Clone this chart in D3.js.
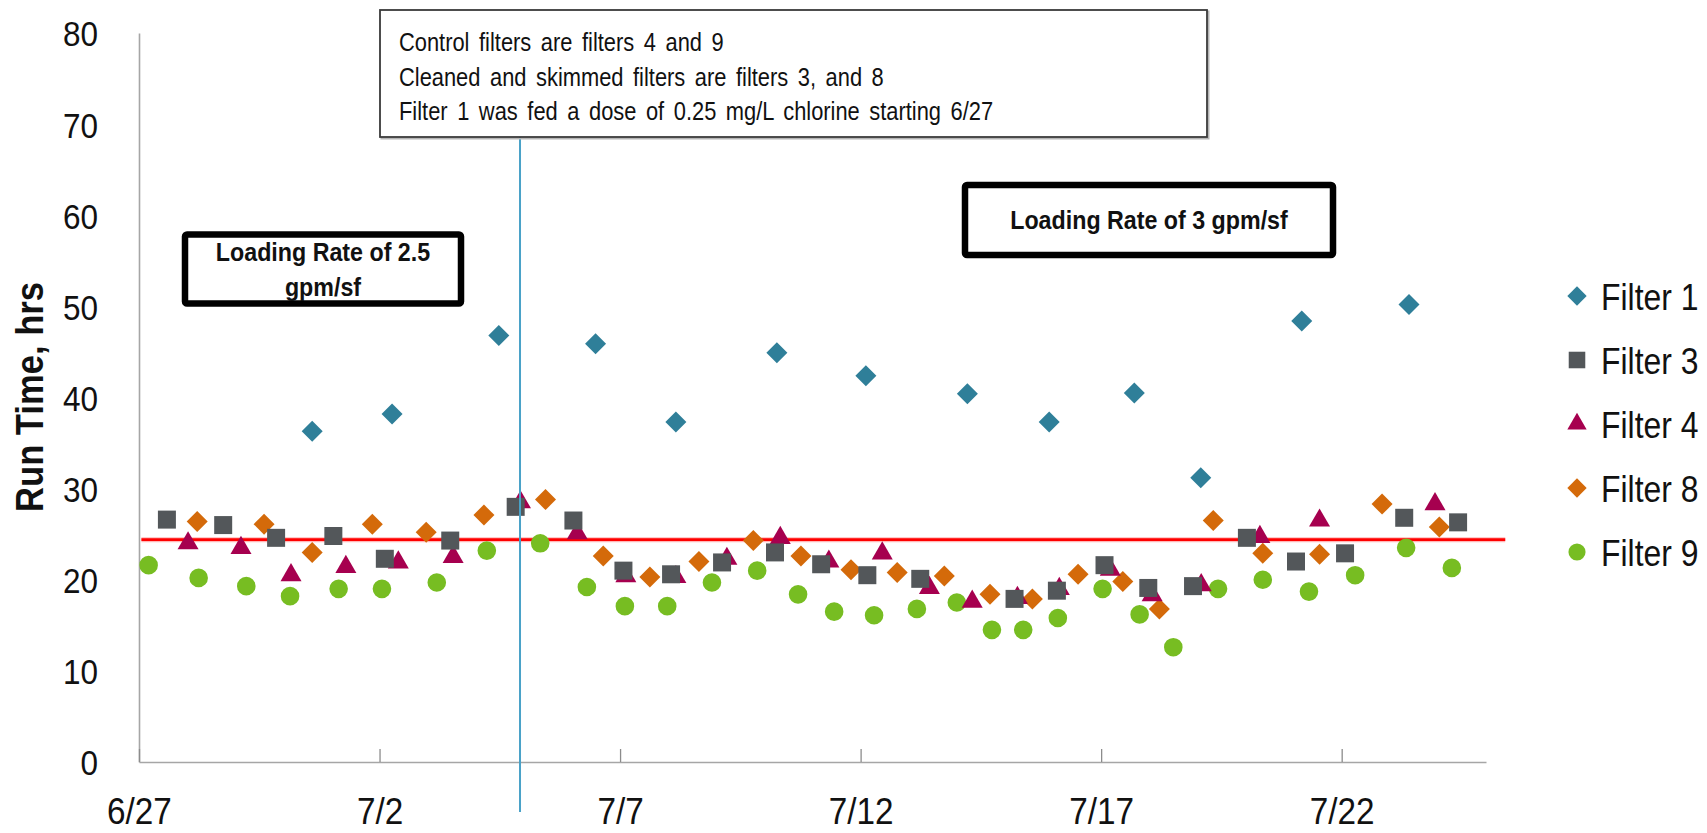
<!DOCTYPE html>
<html>
<head>
<meta charset="utf-8">
<script src="https://cdn.jsdelivr.net/npm/d3@7"></script>
<style>
  html, body { margin: 0; padding: 0; background: #ffffff; }
  svg { display: block; }
  text { font-family: "Liberation Sans", Arial, sans-serif; fill: #111; }
</style>
</head>
<body>
<svg id="chart" width="1707" height="833"></svg>
<script>
// Run time per filter run, in hours. Run start = days after 6/27.
const filter1Days = [3.6, 5.26, 7.48, 9.49, 11.16, 13.26, 15.11, 17.22, 18.92, 20.69, 22.07, 24.17, 26.4];
const filter1Hrs  = [36.3, 38.2, 46.8, 45.9, 37.3, 44.9, 42.4, 40.4, 37.3, 40.5, 31.2, 48.4, 50.2];

const filter3Days = [0.58, 1.75, 2.85, 4.04, 5.11, 6.47, 7.83, 9.03, 10.07, 11.06, 12.12, 13.22, 14.18, 15.14, 16.24, 18.2, 19.08, 20.07, 20.98, 21.91, 23.03, 24.05, 25.07, 26.3, 27.42];
const filter3Hrs  = [26.6, 26.0, 24.6, 24.8, 22.3, 24.3, 28.0, 26.5, 21.0, 20.6, 21.9, 23.0, 21.7, 20.5, 20.1, 17.9, 18.8, 21.6, 19.1, 19.3, 24.6, 22.0, 22.9, 26.8, 26.3];

const filter4Days = [1.02, 2.12, 3.16, 4.3, 5.39, 6.53, 7.93, 9.11, 10.12, 11.16, 12.22, 13.33, 14.34, 15.45, 16.43, 17.32, 18.26, 19.13, 20.19, 21.06, 22.08, 23.3, 24.54, 26.94];
const filter4Hrs  = [24.0, 23.5, 20.5, 21.4, 21.9, 22.5, 28.5, 25.1, 20.4, 20.3, 22.3, 24.6, 22.0, 22.9, 19.1, 17.6, 18.0, 19.0, 21.1, 18.3, 19.4, 24.7, 26.5, 28.3];

const filter8Days = [1.21, 2.6, 3.6, 4.85, 5.97, 7.17, 8.45, 9.65, 10.62, 11.64, 12.77, 13.76, 14.8, 15.76, 16.74, 17.69, 18.57, 19.52, 20.45, 21.21, 22.33, 23.36, 24.54, 25.84, 27.03];
const filter8Hrs  = [26.4, 26.1, 23.0, 26.1, 25.2, 27.1, 28.8, 22.6, 20.3, 22.0, 24.3, 22.6, 21.1, 20.8, 20.4, 18.4, 17.9, 20.6, 19.8, 16.8, 26.5, 22.9, 22.8, 28.3, 25.8];

const filter9Days = [0.2, 1.24, 2.23, 3.14, 4.15, 5.05, 6.19, 7.23, 8.34, 9.31, 10.1, 10.98, 11.91, 12.85, 13.7, 14.45, 15.28, 16.17, 17.0, 17.73, 18.38, 19.1, 20.03, 20.8, 21.5, 22.43, 23.36, 24.32, 25.28, 26.34, 27.29];
const filter9Hrs  = [21.6, 20.2, 19.3, 18.2, 19.0, 19.0, 19.7, 23.2, 24.0, 19.2, 17.1, 17.1, 19.7, 21.0, 18.4, 16.5, 16.1, 16.8, 17.5, 14.5, 14.5, 15.8, 19.0, 16.2, 12.6, 19.0, 20.0, 18.7, 20.5, 23.5, 21.3];

const seriesNames  = ["Filter 1", "Filter 3", "Filter 4", "Filter 8", "Filter 9"];
const seriesColors = ["#2f7f99", "#53575a", "#a6004f", "#d46a0a", "#77bd22"];
const seriesShapes = ["diamond", "square", "triangle", "diamond", "circle"];

const yTicks = [0, 10, 20, 30, 40, 50, 60, 70, 80];
const xTickDays = [0, 5, 10, 15, 20, 25];   // 6/27, 7/2, 7/7, 7/12, 7/17, 7/22
const xEndDay = 28;                          // axis runs to 7/25

const targetRunHrs = 24.4;                   // reference run time
const targetLineDays = [0.05, 28.4];
const chlorineStartDay = 7.92;               // divider between rate periods

const noteLines = [
  "Control filters are filters 4 and 9",
  "Cleaned and skimmed filters are filters 3, and 8",
  "Filter 1 was fed a dose of 0.25 mg/L chlorine starting 6/27"
];
const rateNoteA = ["Loading Rate of 2.5", "gpm/sf"];
const rateNoteB = ["Loading Rate of 3 gpm/sf"];

// ---------------------------------------------------------------
const base = new Date(2013, 5, 27);
const toDate = d => new Date(base.getTime() + d * 864e5);

const svg = d3.select("#chart");
svg.append("rect").attr("width", 1707).attr("height", 833).attr("fill", "#fff");

const x = d3.scaleTime().domain([base, toDate(xEndDay)]).range([139, 1486]);
const y = d3.scaleLinear().domain([0, 80]).range([762, 33]);

// horizontally condense a text element around its anchor point
function squeeze(sel, sx) {
  sel.each(function () {
    const t = d3.select(this);
    const tx = +t.attr("x") || 0, ty = +t.attr("y") || 0;
    t.attr("x", 0).attr("y", 0).attr("transform", `translate(${tx},${ty}) scale(${sx},1)`);
  });
}

// diamond = square rotated 45deg
const diamondType = {
  draw(ctx, size) {
    const r = Math.sqrt(size / 2);
    ctx.moveTo(0, -r); ctx.lineTo(r, 0); ctx.lineTo(0, r); ctx.lineTo(-r, 0); ctx.closePath();
  }
};
function symbolFor(shape, scale = 1) {
  const s = scale * scale;
  if (shape === "diamond") return d3.symbol().type(diamondType).size(s * 2 * 10.5 * 10.5);
  if (shape === "square") return d3.symbol().type(d3.symbolSquare).size(s * 18 * 18);
  if (shape === "triangle") return d3.symbol().type(d3.symbolTriangle).size(s * Math.sqrt(3) / 4 * 21 * 21);
  return d3.symbol().type(d3.symbolCircle).size(s * Math.PI * 9.3 * 9.3);
}

// ---- axes
const yAxis = d3.axisLeft(y).tickValues(yTicks).tickSize(0).tickPadding(41);
const gy = svg.append("g").attr("transform", "translate(139,0)").call(yAxis);
gy.select(".domain").attr("stroke", "#a6a6a6").attr("stroke-width", 1.6);
gy.selectAll("text").style("font-size", "36px").attr("fill", "#111").attr("dy", "0.36em");
squeeze(gy.selectAll("text"), 0.875);

const xAxis = d3.axisBottom(x)
  .tickValues(xTickDays.map(toDate))
  .tickFormat(d3.timeFormat("%-m/%-d"))
  .tickSize(-13).tickSizeOuter(0).tickPadding(62);
const gx = svg.append("g").attr("transform", "translate(0,762)").call(xAxis);
gx.select(".domain").attr("stroke", "#a6a6a6").attr("stroke-width", 1.6);
gx.selectAll(".tick line").attr("stroke", "#8c8c8c").attr("stroke-width", 1.3);
gx.selectAll("text").style("font-size", "37px").attr("fill", "#111").attr("dy", "0");
squeeze(gx.selectAll("text"), 0.9);

// y axis title
svg.append("text")
  .attr("transform", "translate(43,397) rotate(-90) scale(0.91,1)")
  .attr("text-anchor", "middle")
  .style("font-size", "38px").style("font-weight", "bold")
  .text("Run Time, hrs");

// ---- reference run-time line
const line = d3.line().x(d => x(toDate(d))).y(() => y(targetRunHrs));
svg.append("path").datum(targetLineDays).attr("d", line)
  .attr("stroke", "#ff3030").attr("stroke-width", 5).attr("stroke-opacity", 0.35).attr("fill", "none");
svg.append("path").datum(targetLineDays).attr("d", line)
  .attr("stroke", "#ff0000").attr("stroke-width", 2.6).attr("fill", "none");

// ---- series
const seriesDays = [filter1Days, filter3Days, filter4Days, filter8Days, filter9Days];
const seriesHrs  = [filter1Hrs, filter3Hrs, filter4Hrs, filter8Hrs, filter9Hrs];
const drawOrder = [4, 3, 2, 1, 0];
drawOrder.forEach(i => {
  const pts = seriesDays[i].map((d, k) => ({ day: d, hrs: seriesHrs[i][k] }));
  const sym = symbolFor(seriesShapes[i]);
  svg.append("g").selectAll("path").data(pts).join("path")
    .attr("transform", d => `translate(${x(toDate(d.day))},${y(d.hrs)})`)
    .attr("d", sym())
    .attr("fill", seriesColors[i]);
});

// ---- note box and divider line
const noteBox = { x0: 380, y0: 10, x1: 1207, y1: 137 };
svg.append("line")
  .attr("x1", x(toDate(chlorineStartDay))).attr("x2", x(toDate(chlorineStartDay)))
  .attr("y1", noteBox.y1).attr("y2", 812)
  .attr("stroke", "#4aa2c8").attr("stroke-width", 2);
svg.append("rect")
  .attr("x", noteBox.x0 + 1.5).attr("y", noteBox.y0 + 1.5)
  .attr("width", noteBox.x1 - noteBox.x0).attr("height", noteBox.y1 - noteBox.y0)
  .attr("fill", "none").attr("stroke", "#b5b5b5").attr("stroke-width", 2);
svg.append("rect")
  .attr("x", noteBox.x0).attr("y", noteBox.y0)
  .attr("width", noteBox.x1 - noteBox.x0).attr("height", noteBox.y1 - noteBox.y0)
  .attr("fill", "#fff").attr("stroke", "#3a3a3a").attr("stroke-width", 1.8);
const noteText = svg.append("g").selectAll("text").data(noteLines).join("text")
  .attr("x", 399).attr("y", (d, i) => 51 + i * 34.5)
  .style("font-size", "25px").style("word-spacing", "4px")
  .text(d => d);
squeeze(noteText, 0.875);

// ---- loading-rate boxes
function rateBox(cx, top, w, h, lines, lineGap) {
  const g = svg.append("g");
  g.append("rect")
    .attr("x", cx - w / 2).attr("y", top).attr("width", w).attr("height", h)
    .attr("rx", 2).attr("fill", "#fff").attr("stroke", "#000").attr("stroke-width", 6.5);
  const t = g.selectAll("text").data(lines).join("text")
    .attr("x", cx)
    .attr("y", (d, i) => top + h / 2 + (i - (lines.length - 1) / 2) * lineGap + 9)
    .attr("text-anchor", "middle")
    .style("font-size", "25px").style("font-weight", "bold")
    .text(d => d);
  squeeze(t, 0.93);
}
rateBox(323, 234.5, 276, 69, rateNoteA, 35);
rateBox(1149, 185, 368, 70, rateNoteB, 0);

// ---- legend
const legend = svg.append("g");
seriesNames.forEach((name, i) => {
  const ly = 296 + i * 64;
  legend.append("path")
    .attr("transform", `translate(1577,${ly})`)
    .attr("d", symbolFor(seriesShapes[i], 0.92)())
    .attr("fill", seriesColors[i]);
  const t = legend.append("text")
    .attr("x", 1601).attr("y", ly).attr("dy", "0.36em")
    .style("font-size", "37.5px")
    .text(name);
  squeeze(t, 0.85);
});
</script>
</body>
</html>
